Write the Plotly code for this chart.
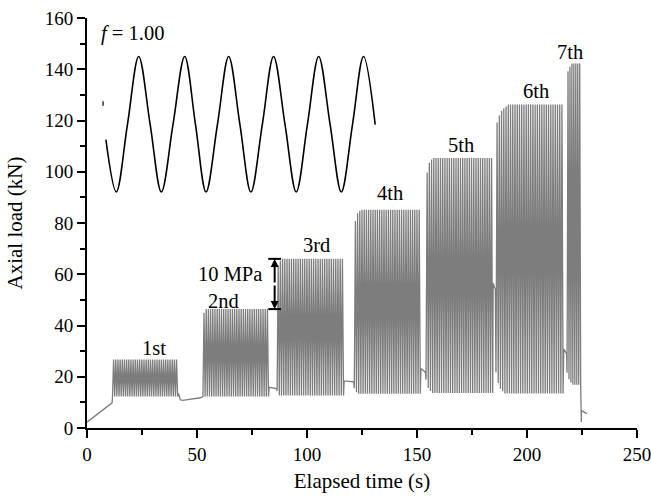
import plotly.graph_objects as go

# ---------------- data ----------------
freq_hz = 1.00

ramp_t = [0.0, 6.0, 11.4]
ramp_load = [2.3, 6.4, 9.8]

block_labels = ["1st", "2nd", "3rd", "4th", "5th", "6th", "7th"]
block_start = [11.6, 52.7, 86.4, 121.5, 154.1, 185.9, 218.2]
block_end = [41.2, 82.5, 116.6, 151.5, 184.4, 216.4, 224.4]
block_cycles = [30, 30, 30, 30, 30, 30, 7]
block_peak = [26.7, 46.4, 66.0, 85.2, 105.4, 126.2, 142.2]
block_valley = [12.3, 12.3, 12.7, 13.4, 13.7, 13.5, 16.9]
lead_peaks = [[], [45.0], [63.5, 65.3], [80.8, 83.8, 84.8], [99.7, 103.5, 104.8],
              [119.2, 122.0, 123.8, 124.8, 125.5], [139.2, 141.0]]
lead_valleys = [[], [], [14.5], [15.5, 14.0], [18.9, 15.6, 14.4],
                [21.8, 17.5, 15.3, 14.3], [21.6, 19.0, 17.8]]

rest_t = [[41.6, 42.4, 43.5, 51.5], [82.8, 86.1], [116.9, 121.2], [151.8, 153.8],
          [184.6, 185.6], [216.7, 218.0], [224.7, 224.8, 227.2]]
rest_load = [[13.5, 11.0, 10.8, 11.8], [15.9, 15.4], [18.4, 18.0], [23.2, 21.8],
             [56.5, 54.0], [30.8, 29.0], [2.3, 6.8, 5.6]]

label_t = [30.5, 62.1, 104.5, 137.5, 169.8, 204.0, 219.4]
label_load = [31.2, 49.6, 71.5, 91.7, 110.6, 131.4, 146.6]

# inset waveform key points (start, troughs, crossings, peaks, end)
sine_t = [8.6, 13.3, 18.4, 23.5, 28.7, 33.8, 39.1, 44.4, 49.3, 54.1, 59.3, 64.4,
          69.5, 74.5, 79.7, 84.8, 90.0, 95.1, 100.2, 105.3, 110.5, 115.6, 120.7,
          125.7, 131.0]
sine_load = [112.5, 92.1, 118.5, 145.0, 118.5, 92.1, 118.5, 145.0, 118.5, 92.1,
             118.5, 145.0, 118.5, 92.1, 118.5, 145.0, 118.5, 92.1, 118.5, 145.0,
             118.5, 92.1, 118.5, 145.0, 118.4]
mark_t = [7.3, 7.3]
mark_load = [125.8, 127.5]

arrow_t = 85.3
mpa_label = "10 MPa"
mpa_label_t = 80.3
mpa_label_load = 60.1

# ---------------- build signal ----------------
sig_t = list(ramp_t)
sig_y = list(ramp_load)
for i in range(len(block_start)):
    n = block_cycles[i]
    period = (block_end[i] - block_start[i]) / n
    for k in range(n):
        v = lead_valleys[i][k] if k < len(lead_valleys[i]) else block_valley[i]
        p = lead_peaks[i][k] if k < len(lead_peaks[i]) else block_peak[i]
        sig_t.append(block_start[i] + k * period)
        sig_y.append(v)
        sig_t.append(block_start[i] + (k + 0.5) * period)
        sig_y.append(p)
    sig_t.append(block_end[i])
    sig_y.append(block_valley[i])
    sig_t += rest_t[i]
    sig_y += rest_load[i]

FONT = "Liberation Serif"

fig = go.Figure()
fig.add_trace(go.Scatter(x=sig_t, y=sig_y, mode="lines",
                         line=dict(color="#7d7d7d", width=1.3), showlegend=False,
                         hoverinfo="skip"))
fig.add_trace(go.Scatter(x=sine_t, y=sine_load, mode="lines",
                         line=dict(color="black", width=1.6, shape="spline", smoothing=1.0),
                         showlegend=False, hoverinfo="skip"))
fig.add_trace(go.Scatter(x=mark_t, y=mark_load, mode="lines",
                         line=dict(color="black", width=1.2), showlegend=False,
                         hoverinfo="skip"))

for lab, t, y in zip(block_labels, label_t, label_load):
    fig.add_annotation(x=t, y=y, text=lab, showarrow=False,
                       font=dict(family=FONT, size=20.5, color="black"),
                       xanchor="center", yanchor="middle")

fig.add_annotation(x=mpa_label_t, y=mpa_label_load, text=mpa_label, showarrow=False,
                   font=dict(family=FONT, size=20.5, color="black"),
                   xanchor="right", yanchor="middle")
fig.add_annotation(x=5.3, y=154.1, text="<i>f</i> = 1.00", showarrow=False,
                   font=dict(family=FONT, size=20.5, color="black"),
                   xanchor="left", yanchor="middle")

# 10 MPa double arrow between 2nd and 3rd peak levels
lo, hi = block_peak[1], block_peak[2]
mid = (lo + hi) / 2
for tip in (hi, lo):
    fig.add_annotation(x=arrow_t, y=tip, ax=arrow_t, ay=mid, xref="x", yref="y",
                       axref="x", ayref="y", text="", showarrow=True,
                       arrowhead=2, arrowsize=0.8, arrowwidth=2, arrowcolor="black")
for lvl in (lo, hi):
    fig.add_shape(type="line", x0=arrow_t - 2.9, x1=arrow_t + 2.9, y0=lvl, y1=lvl,
                  xref="x", yref="y", line=dict(color="black", width=2))

axis_common = dict(showline=True, linecolor="black", linewidth=2, ticks="outside",
                   ticklen=8, tickwidth=2, tickcolor="black", showgrid=False,
                   zeroline=False, mirror=False, ticklabeloverflow="allow",
                   tickfont=dict(family=FONT, size=19, color="black"))
fig.update_xaxes(range=[0, 250], dtick=50, tick0=0,
                 minor=dict(dtick=25, ticklen=5, tickwidth=2, tickcolor="black",
                            ticks="outside", showgrid=False),
                 title=dict(text="Elapsed time (s)", standoff=10,
                            font=dict(family=FONT, size=21, color="black")),
                 **axis_common)
fig.update_yaxes(range=[0, 160], dtick=20, tick0=0,
                 minor=dict(dtick=10, ticklen=5, tickwidth=2, tickcolor="black",
                            ticks="outside", showgrid=False),
                 title=dict(text="Axial load (kN)", standoff=16,
                            font=dict(family=FONT, size=21, color="black")),
                 **axis_common)
fig.update_layout(width=651, height=496, margin=dict(l=87, r=14, t=18, b=68, autoexpand=False),
                  plot_bgcolor="white", paper_bgcolor="white",
                  font=dict(family=FONT, color="black"))

fig.write_html("out.html", config={"displayModeBar": False},
               post_script="document.body.style.margin='0';")
